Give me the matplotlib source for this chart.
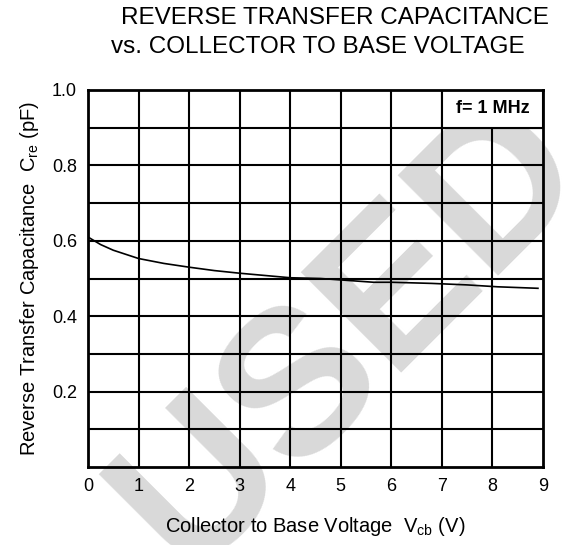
import matplotlib.pyplot as plt
from matplotlib.patches import Rectangle

plt.rcParams['font.family'] = ['Liberation Sans', 'DejaVu Sans']

# curve
vcb = [0, 0.25, 0.5, 1, 1.5, 2, 2.5, 3, 3.5, 4, 4.6, 5.65, 6, 6.8, 7.5, 8.1, 8.9]
cre = [0.61, 0.59, 0.575, 0.553, 0.54, 0.53, 0.521, 0.514, 0.508, 0.502, 0.5,
       0.49, 0.49, 0.487, 0.483, 0.478, 0.474]

xticks = list(range(10))
yticks = [0.2, 0.4, 0.6, 0.8, 1.0]
ytick_labels = ['0.2', '0.4', '0.6', '0.8', '1.0']

fig = plt.figure(figsize=(5.63, 5.45), dpi=100)
ax = fig.add_axes([88 / 563, 78 / 545, 455 / 563, 377 / 545])

# watermark, drawn under the grid
ax.text(0.58, 0.35, 'USED', transform=ax.transAxes, fontsize=148,
        fontweight='bold', color='#d9d9d9', rotation=45, ha='center',
        va='center', zorder=1, clip_on=False)

# grid
for x in range(1, 9):
    ax.axvline(x, color='black', lw=1.5, zorder=2)
for y in [0.1, 0.2, 0.3, 0.4, 0.5, 0.6, 0.7, 0.8, 0.9]:
    ax.axhline(y, color='black', lw=1.5, zorder=2)

ax.plot(vcb, cre, color='black', lw=1.2, zorder=3)

# f = 1 MHz box
ax.add_patch(Rectangle((7, 0.9), 2, 0.1, facecolor='white', edgecolor='black',
                       lw=1.5, zorder=4))
ax.text(8, 0.95, 'f= 1 MHz', ha='center', va='center', fontsize=13,
        fontweight='bold', zorder=5)

ax.set_xlim(0, 9)
ax.set_ylim(0, 1.0)
ax.set_xticks(xticks)
ax.set_xticklabels([str(t) for t in xticks], fontsize=13)
ax.set_yticks(yticks)
ax.set_yticklabels(ytick_labels, fontsize=13)
ax.tick_params(length=0, pad=8)
for s in ax.spines.values():
    s.set_linewidth(2)
    s.set_zorder(6)

ax.set_xlabel(r'Collector to Base Voltage  V$_{\mathregular{cb}}$ (V)', fontsize=14.5,
              labelpad=14)
ax.set_ylabel(r'Reverse Transfer Capacitance  C$_{\mathregular{re}}$ (pF)',
              fontsize=14.5, labelpad=8)

fig.text(335 / 563, 1 - 18 / 545, 'REVERSE TRANSFER CAPACITANCE', ha='center',
         va='center', fontsize=17.5)
fig.text(318 / 563, 1 - 47 / 545, 'vs. COLLECTOR TO BASE VOLTAGE', ha='center',
         va='center', fontsize=17.5)

fig.savefig('out.png', dpi=100)
